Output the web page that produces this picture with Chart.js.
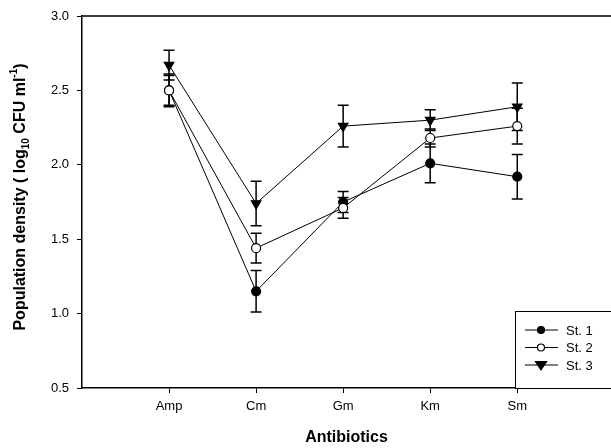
<!DOCTYPE html>
<html>
<head>
<meta charset="utf-8">
<script src="https://cdn.jsdelivr.net/npm/chart.js@4/dist/chart.umd.min.js"></script>
<style>
  body { margin: 0; background: #fff; }
  canvas { display: block; }
</style>
</head>
<body>
<canvas id="densityChart" width="611" height="448"></canvas>
<script>
// Antibiotics on the x axis
const antibiotics = ['Amp', 'Cm', 'Gm', 'Km', 'Sm'];

// Mean population density (log10 CFU/ml) per strain
const st1Values = [2.50, 1.15, 1.75, 2.01, 1.92];
const st2Values = [2.50, 1.44, 1.71, 2.18, 2.26];
const st3Values = [2.67, 1.74, 2.26, 2.30, 2.39];

// Error bar half-lengths
const st1Errors = [0.10, 0.14, 0.07, 0.13, 0.15];
const st2Errors = [0.11, 0.10, 0.07, 0.06, 0.12];
const st3Errors = [0.10, 0.15, 0.14, 0.07, 0.16];

const yTicks = [0.5, 1.0, 1.5, 2.0, 2.5, 3.0];

const FONT = "'Liberation Sans', Arial, sans-serif";

function toPoints(values) {
  return values.map((v, i) => ({ x: i, y: v }));
}

const seriesInfo = [
  { label: 'St. 1', values: st1Values, errors: st1Errors, style: 'circle', fill: '#000', radius: 4.5, order: 1 },
  { label: 'St. 2', values: st2Values, errors: st2Errors, style: 'circle', fill: '#fff', radius: 4.5, order: 0 },
  { label: 'St. 3', values: st3Values, errors: st3Errors, style: 'triangle', fill: '#000', radius: 5.5, order: 2 },
];

// draws a marker in the same style as the chart points
function drawMarker(ctx, s, x, y) {
  ctx.save();
  ctx.fillStyle = s.fill;
  ctx.strokeStyle = '#000';
  ctx.lineWidth = 1.2;
  ctx.beginPath();
  if (s.style === 'circle') {
    ctx.arc(x, y, s.radius - 1, 0, Math.PI * 2);
  } else {
    const r = s.radius;
    ctx.moveTo(x - r, y - r * 0.6);
    ctx.lineTo(x + r, y - r * 0.6);
    ctx.lineTo(x, y + r * 0.9);
    ctx.closePath();
  }
  ctx.fill();
  ctx.stroke();
  ctx.restore();
}

// error bars, top frame line, legend box and axis titles
const extrasPlugin = {
  id: 'extras',
  beforeDatasetsDraw(chart) {
    const ctx = chart.ctx;
    const yScale = chart.scales.y;
    ctx.save();
    ctx.strokeStyle = '#000';
    ctx.lineWidth = 1.5;
    seriesInfo.forEach((s, di) => {
      const meta = chart.getDatasetMeta(di);
      meta.data.forEach((pt, j) => {
        const yTop = yScale.getPixelForValue(s.values[j] + s.errors[j]);
        const yBot = yScale.getPixelForValue(s.values[j] - s.errors[j]);
        ctx.beginPath();
        ctx.moveTo(pt.x, yTop); ctx.lineTo(pt.x, yBot);
        ctx.moveTo(pt.x - 5.5, yTop); ctx.lineTo(pt.x + 5.5, yTop);
        ctx.moveTo(pt.x - 5.5, yBot); ctx.lineTo(pt.x + 5.5, yBot);
        ctx.stroke();
      });
    });
    ctx.restore();
  },
  afterDraw(chart) {
    const ctx = chart.ctx;
    const area = chart.chartArea;
    ctx.save();

    // top frame line
    ctx.strokeStyle = '#000';
    ctx.lineWidth = 1.5;
    ctx.beginPath();
    ctx.moveTo(area.left, area.top);
    ctx.lineTo(chart.width, area.top);
    ctx.stroke();

    // legend box
    const boxX = 515, boxY = 311;
    ctx.fillStyle = '#fff';
    ctx.fillRect(boxX, boxY, chart.width - boxX + 2, area.bottom - boxY);
    ctx.lineWidth = 1;
    ctx.strokeRect(boxX + 0.5, boxY + 0.5, chart.width - boxX + 2, area.bottom - boxY);
    seriesInfo.forEach((s, i) => {
      const y = 330 + i * 17.5;
      ctx.strokeStyle = '#000';
      ctx.lineWidth = 1;
      ctx.beginPath();
      ctx.moveTo(525, y); ctx.lineTo(558, y);
      ctx.stroke();
      drawMarker(ctx, s, 541, y);
      ctx.fillStyle = '#000';
      ctx.font = '13px ' + FONT;
      ctx.textAlign = 'left';
      ctx.textBaseline = 'middle';
      ctx.fillText(s.label, 566, y + 1);
    });

    // x axis title
    ctx.fillStyle = '#000';
    ctx.font = 'bold 16px ' + FONT;
    ctx.textAlign = 'center';
    ctx.textBaseline = 'middle';
    ctx.fillText('Antibiotics', (area.left + chart.width) / 2, 438);

    // y axis title with subscript and superscript
    const parts = [
      { t: 'Population density ( log', size: 16, dy: 0 },
      { t: '10', size: 10, dy: 5 },
      { t: ' CFU ml', size: 16, dy: 0 },
      { t: '-1', size: 10, dy: -7 },
      { t: ')', size: 16, dy: 0 },
    ];
    let total = 0;
    parts.forEach(p => {
      ctx.font = 'bold ' + p.size + 'px ' + FONT;
      p.w = ctx.measureText(p.t).width;
      total += p.w;
    });
    ctx.translate(21, 197);
    ctx.rotate(-Math.PI / 2);
    ctx.textAlign = 'left';
    ctx.textBaseline = 'middle';
    let x = -total / 2;
    parts.forEach(p => {
      ctx.font = 'bold ' + p.size + 'px ' + FONT;
      ctx.fillText(p.t, x, p.dy);
      x += p.w;
    });
    ctx.restore();
  }
};

const datasets = seriesInfo.map(s => ({
  label: s.label,
  data: toPoints(s.values),
  order: s.order,
  borderColor: '#000',
  borderWidth: 1,
  backgroundColor: s.fill,
  pointBackgroundColor: s.fill,
  pointBorderColor: '#000',
  pointBorderWidth: 1.2,
  pointStyle: s.style,
  pointRotation: s.style === 'triangle' ? 180 : 0,
  pointRadius: s.radius,
  tension: 0,
  fill: false,
}));

new Chart(document.getElementById('densityChart'), {
  type: 'line',
  data: { datasets },
  options: {
    responsive: false,
    animation: false,
    devicePixelRatio: 1,
    layout: { padding: { top: 16, right: 0, left: 0, bottom: 0 } },
    plugins: { legend: { display: false }, tooltip: { enabled: false } },
    scales: {
      x: {
        type: 'linear',
        min: -1,
        max: 5,
        afterBuildTicks: (scale) => {
          scale.ticks = antibiotics.map((_, i) => ({ value: i }));
        },
        ticks: {
          callback: (v) => antibiotics[v] ?? '',
          color: '#000',
          font: { family: FONT, size: 13 },
          padding: 6,
          maxRotation: 0,
        },
        grid: { drawOnChartArea: false, tickLength: 5, tickColor: '#000', tickWidth: 1 },
        border: { color: '#000', width: 1.5 },
        afterFit: (scale) => { scale.height = 60; },
      },
      y: {
        min: 0.5,
        max: 3.0,
        afterBuildTicks: (scale) => {
          scale.ticks = yTicks.map(v => ({ value: v }));
        },
        ticks: {
          callback: (v) => Number(v).toFixed(1),
          color: '#000',
          font: { family: FONT, size: 13 },
          padding: 8,
        },
        grid: { drawOnChartArea: false, tickLength: 5, tickColor: '#000', tickWidth: 1 },
        border: { color: '#000', width: 1.5 },
        afterFit: (scale) => { scale.width = 82; },
      },
    },
  },
  plugins: [extrasPlugin],
});
</script>
</body>
</html>
